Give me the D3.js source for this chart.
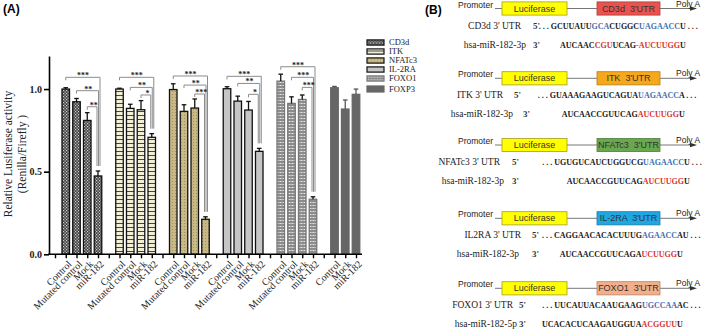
<!DOCTYPE html>
<html>
<head>
<meta charset="utf-8">
<script src="https://cdn.jsdelivr.net/npm/d3@7"></script>
<style>
  body { margin: 0; background: #fff; }
  svg { display: block; }
</style>
</head>
<body>
<div id="viz"></div>
<script>
// ---- data (panel A) ----
const genes = ["CD3d", "ITK", "NFATc3", "IL-2RA", "FOXO1", "FOXP3"]
const conditions = [
  ["Control", "Mutated control", "Mock", "miR-182"],
  ["Control", "Mutated control", "Mock", "miR-182"],
  ["Control", "Mutated control", "Mock", "miR-182"],
  ["Control", "Mutated control", "Mock", "miR-182"],
  ["Control", "Mutated control", "Mock", "miR-182"],
  ["Control", "Mock", "miR-182"]
]
const meanValues = [
  [1.000, 0.923, 0.810, 0.474],
  [1.000, 0.883, 0.875, 0.708],
  [0.997, 0.865, 0.885, 0.212],
  [1.002, 0.927, 0.873, 0.623],
  [1.048, 0.913, 0.937, 0.333],
  [1.008, 0.879, 0.968]
]
const errValues = [
  [0.008, 0.020, 0.047, 0.030],
  [0.005, 0.025, 0.055, 0.022],
  [0.035, 0.040, 0.055, 0.015],
  [0.012, 0.030, 0.052, 0.018],
  [0.042, 0.040, 0.027, 0.015],
  [0.008, 0.055, 0.032]
]
// brackets: control / mutated / mock vs miR-182
const bracketLevels = [
  [1.071, 0.990, 0.893],
  [1.071, 1.010, 0.964],
  [1.079, 1.024, 0.970],
  [1.077, 1.034, 0.968],
  [1.135, 1.071, 1.010]
]
const bracketLabels = [
  ["***", "**", "**"],
  ["***", "**", "*"],
  ["***", "**", "***"],
  ["***", "**", "*"],
  ["***", "***", "***"]
]
const yTicks = [0, 0.5, 1.0]

// ---- data (panel B) ----
const utrBoxNames = ["CD3d  3'UTR", "ITK  3'UTR", "NFATc3  3'UTR", "IL-2RA  3'UTR", "FOXO1  3'UTR"]
const utrBoxColors = ["#e9534f", "#f5a81c", "#6aa84f", "#1ea7e1", "#f3ae8a"]
const utrLabels = ["CD3d 3' UTR", "ITK 3' UTR", "NFATc3 3' UTR", "IL2RA 3' UTR", "FOXO1 3' UTR"]
const mirLabels = ["hsa-miR-182-3p", "hsa-miR-182-3p", "hsa-miR-182-3p", "hsa-miR-182-3p", "hsa-miR-182-5p"]
// [..] marks the seed / matching part
const utrSeqs = [
  ". . . GCUUAUU[GCA]CUGGC[UAGAACC]U . . .",
  ". . . GUAAAGAAGUCAGUA[UAGAACC]A . . .",
  ". . . UGUGUCAUCUGGUCG[UAGAACC]U . . .",
  ". . . CAGGAACACACUUUG[AGAACC]AU . . .",
  ". . . UUCAUUACAAUGAAG[UGCCAA]AC . . ."
]
const mirSeqs = [
  "AUCAAC[CGU]UCAG[-AUCUUGG]U",
  "AUCAACCGUUCAG[AUCUUGG]U",
  "AUCAACCGUUCAG[AUCUUGG]U",
  "AUCAACCGUUCAGA[UCUUGG]U",
  "UCACACUCAAGAUGGUA[ACGGUU]U"
]

// ---- layout ----
const width = 709
const height = 334
const rowY = [8.5, 78.3, 145, 218.3, 288.3]
const utrLabelEnd = [521, 503, 500, 521, 513]
const mirLabelEnd = [526, 513, 504, 519, 517]
const prime5X = [533, 514, 512, 532, 519]
const prime3X = [533, 523, 512, 532, 519]
const seedEndX = [680, 679, 684, 677, 677]

const svg = d3.select("#viz").append("svg")
  .attr("width", width)
  .attr("height", height)

const defs = svg.append("defs")

// fill patterns for the genes
const p1 = defs.append("pattern").attr("id", "pat0").attr("patternUnits", "userSpaceOnUse")
  .attr("width", 3).attr("height", 3)
p1.append("rect").attr("width", 3).attr("height", 3).attr("fill", "#444")
p1.append("rect").attr("x", 0).attr("y", 0).attr("width", 1.2).attr("height", 1.2).attr("fill", "#cfcfcf")
p1.append("rect").attr("x", 1.5).attr("y", 1.5).attr("width", 1.2).attr("height", 1.2).attr("fill", "#cfcfcf")

const p2 = defs.append("pattern").attr("id", "pat1").attr("patternUnits", "userSpaceOnUse")
  .attr("width", 4).attr("height", 4)
p2.append("rect").attr("width", 4).attr("height", 4).attr("fill", "#f4f0d8")
p2.append("rect").attr("y", 3).attr("width", 4).attr("height", 1).attr("fill", "#444")

const p3 = defs.append("pattern").attr("id", "pat2").attr("patternUnits", "userSpaceOnUse")
  .attr("width", 3).attr("height", 3)
p3.append("rect").attr("width", 3).attr("height", 3).attr("fill", "#c9b986")
p3.append("rect").attr("x", 1).attr("y", 1).attr("width", 0.8).attr("height", 0.8).attr("fill", "#8a7a4a")

const p5 = defs.append("pattern").attr("id", "pat4").attr("patternUnits", "userSpaceOnUse")
  .attr("width", 3).attr("height", 3)
p5.append("rect").attr("width", 3).attr("height", 3).attr("fill", "#8c8c8c")
p5.append("rect").attr("x", 0.5).attr("y", 1).attr("width", 2).attr("height", 1).attr("fill", "#e6e6e6")

const fills = ["url(#pat0)", "url(#pat1)", "url(#pat2)", "#c6c6c6", "url(#pat4)", "#666666"]
const strokes = ["#111", "#111", "#111", "#111", "#777", "#666666"]

// ================= panel A =================
// one slot per bar, plus an empty slot before every gene group
const slots = []
genes.forEach((g, gi) => {
  slots.push({ key: "gap" + gi, gap: true })
  conditions[gi].forEach((c, ci) => {
    slots.push({ key: g + "|" + c, gi: gi, ci: ci, cond: c, mean: meanValues[gi][ci], err: errValues[gi][ci] })
  })
})
const bars = slots.filter(s => !s.gap)

const xScale = d3.scalePoint()
  .domain(slots.map(s => s.key))
  .range([55, 356])
const barW = xScale.step() * 0.7

const yScale = d3.scaleLinear()
  .domain([0, 1.2])
  .range([254.3, 56])

const chart = svg.append("g")

chart.append("text")
  .attr("x", 3).attr("y", 13)
  .attr("font-family", "Arial, Liberation Sans, sans-serif")
  .attr("font-weight", "bold")
  .attr("font-size", 12)
  .text("(A)")

// bars
chart.append("g")
  .selectAll("rect")
  .data(bars)
  .join("rect")
  .attr("x", d => xScale(d.key) - barW / 2)
  .attr("y", d => yScale(d.mean))
  .attr("width", barW)
  .attr("height", d => yScale(0) - yScale(d.mean))
  .attr("fill", d => fills[d.gi])
  .attr("stroke", d => strokes[d.gi])
  .attr("stroke-width", 1.3)

// error bars (upper half)
const eb = chart.append("g")
  .selectAll("g")
  .data(bars)
  .join("g")
  .attr("stroke", d => d.gi === 5 ? "#555" : "#111")
  .attr("stroke-width", 1.3)
eb.append("line")
  .attr("x1", d => xScale(d.key)).attr("x2", d => xScale(d.key))
  .attr("y1", d => yScale(d.mean)).attr("y2", d => yScale(d.mean + d.err))
eb.append("line")
  .attr("x1", d => xScale(d.key) - 2.3).attr("x2", d => xScale(d.key) + 2.3)
  .attr("y1", d => yScale(d.mean + d.err)).attr("y2", d => yScale(d.mean + d.err))

// significance brackets
const brackets = []
bracketLevels.forEach((levels, gi) => {
  const last = conditions[gi].length - 1
  levels.forEach((lv, bi) => {
    brackets.push({
      gi: gi, bi: bi, level: lv, label: bracketLabels[gi][bi],
      from: genes[gi] + "|" + conditions[gi][bi],
      to: genes[gi] + "|" + conditions[gi][last],
      toTop: meanValues[gi][last] + errValues[gi][last]
    })
  })
})
const bg = chart.append("g")
  .selectAll("g")
  .data(brackets)
  .join("g")
bg.append("path")
  .attr("fill", "none")
  .attr("stroke", "#8c8c8c")
  .attr("stroke-width", 1)
  .attr("d", d => {
    const x1 = xScale(d.from)
    const x2 = xScale(d.to) + 2 - 1.5 * d.bi
    const yl = yScale(d.level)
    return `M${x1},${yl + 3}V${yl}H${x2}V${yScale(d.toTop) - 5}`
  })
bg.append("text")
  .attr("x", d => (xScale(d.from) + xScale(d.to)) / 2 + 1)
  .attr("y", d => yScale(d.level) + 1)
  .attr("text-anchor", "middle")
  .attr("font-family", "Liberation Serif, Times New Roman, serif")
  .attr("font-weight", "bold")
  .attr("font-size", 8)
  .attr("fill", "#222")
  .text(d => d.label)

// y axis
const yAxis = d3.axisLeft(yScale)
  .tickValues(yTicks)
  .tickFormat(d3.format(".1f"))
  .tickSize(5)
  .tickSizeOuter(0)
const yG = chart.append("g")
  .attr("transform", "translate(49,0)")
  .call(yAxis)
yG.select(".domain").attr("stroke-width", 1.6)
yG.selectAll(".tick line").attr("stroke-width", 1.6)
yG.selectAll(".tick text")
  .attr("font-family", "Liberation Serif, Times New Roman, serif")
  .attr("font-weight", "bold")
  .attr("font-size", 10)
  .attr("fill", "#222")
  .attr("x", -7)

// x axis: line + a tick under every slot
const xAxis = d3.axisBottom(xScale).tickSize(4).tickFormat("")
const xG = chart.append("g")
  .attr("transform", `translate(0,${yScale(0)})`)
  .call(xAxis)
xG.select(".domain").remove()
xG.selectAll(".tick line").attr("stroke-width", 1.4)
xG.append("line")
  .attr("x1", 48.2).attr("x2", 362)
  .attr("stroke", "#000").attr("stroke-width", 1.6)

chart.append("g")
  .selectAll("text")
  .data(bars)
  .join("text")
  .attr("transform", d => `translate(${xScale(d.key) + 4},${yScale(0) + 8}) rotate(-45)`)
  .attr("text-anchor", "end")
  .attr("dy", "0.35em")
  .attr("font-family", "Liberation Serif, Times New Roman, serif")
  .attr("font-size", 10)
  .attr("fill", "#222")
  .text(d => d.cond)

// y label
const yl = chart.append("text")
  .attr("transform", "translate(12,154) rotate(-90)")
  .attr("text-anchor", "middle")
  .attr("font-family", "Liberation Serif, Times New Roman, serif")
  .attr("font-size", 11.5)
  .attr("fill", "#222")
yl.append("tspan").attr("x", 0).attr("dy", 0).text("Relative Lusiferase activity")
yl.append("tspan").attr("x", 0).attr("dy", 14).text("(Renilla/Firefly )")

// legend
const leg = chart.append("g")
  .selectAll("g")
  .data(genes)
  .join("g")
  .attr("transform", (d, i) => `translate(367,${i < 5 ? 42.5 + i * 9 : 89})`)
leg.append("rect")
  .attr("x", 0).attr("y", (d, i) => i < 5 ? -2.6 : -3)
  .attr("width", 17).attr("height", (d, i) => i < 5 ? 5.2 : 6)
  .attr("fill", (d, i) => fills[i])
  .attr("stroke", (d, i) => strokes[i])
  .attr("stroke-width", 1.2)
leg.append("text")
  .attr("x", 22).attr("dy", "0.35em")
  .attr("font-family", "Liberation Serif, Times New Roman, serif")
  .attr("font-size", 8.5)
  .attr("fill", "#222")
  .text(d => d)

// ================= panel B =================
const panelB = svg.append("g")
panelB.append("text")
  .attr("x", 425).attr("y", 14)
  .attr("font-family", "Arial, Liberation Sans, sans-serif")
  .attr("font-weight", "bold")
  .attr("font-size", 12)
  .text("(B)")

function parseSeq (s) {
  return s.split(/(\[[^\]]*\])/).filter(p => p.length).map(p =>
    p[0] === "[" ? { t: p.slice(1, -1), hi: true } : { t: p, hi: false })
}

const seqFont = "Liberation Serif, Times New Roman, serif"

utrSeqs.forEach((seq, i) => {
  const cy = rowY[i]
  const row = panelB.append("g")

  // construct line with arrow
  row.append("line")
    .attr("x1", 495).attr("x2", 692)
    .attr("y1", cy).attr("y2", cy)
    .attr("stroke", "#777").attr("stroke-width", 1)
  row.append("path")
    .attr("d", `M697,${cy}L690,${cy - 2.2}L690,${cy + 2.2}Z`)
    .attr("fill", "#333")
  row.append("text")
    .attr("x", 493).attr("y", cy - 1)
    .attr("text-anchor", "end")
    .attr("font-family", "Arial, Liberation Sans, sans-serif")
    .attr("font-size", 8.5).attr("fill", "#222")
    .text("Promoter")
  row.append("text")
    .attr("x", 676).attr("y", cy - 2)
    .attr("font-family", "Arial, Liberation Sans, sans-serif")
    .attr("font-size", 8.5).attr("fill", "#222")
    .text("Poly A")
  row.append("rect")
    .attr("x", 502).attr("y", cy - 6.6)
    .attr("width", 65).attr("height", 13.2)
    .attr("fill", "#ffff00").attr("stroke", "#a59a2a").attr("stroke-width", 0.8)
  row.append("text")
    .attr("x", 534.5).attr("y", cy).attr("dy", "0.35em")
    .attr("text-anchor", "middle")
    .attr("font-family", "Arial, Liberation Sans, sans-serif")
    .attr("font-size", 9).attr("fill", "#333")
    .text("Luciferase")
  row.append("rect")
    .attr("x", 597).attr("y", cy - 6.6)
    .attr("width", 63).attr("height", 13.2)
    .attr("fill", utrBoxColors[i]).attr("stroke", d3.color(utrBoxColors[i]).darker(0.8)).attr("stroke-width", 0.8)
  row.append("text")
    .attr("x", 628.5).attr("y", cy).attr("dy", "0.35em")
    .attr("text-anchor", "middle")
    .attr("font-family", "Arial, Liberation Sans, sans-serif")
    .attr("font-size", 9).attr("fill", "#333")
    .style("white-space", "pre")
    .text(utrBoxNames[i])

  // labels
  row.append("text")
    .attr("x", utrLabelEnd[i]).attr("y", cy + 20)
    .attr("text-anchor", "end")
    .attr("font-family", seqFont).attr("font-size", 9.5).attr("fill", "#222")
    .text(utrLabels[i])
  row.append("text")
    .attr("x", mirLabelEnd[i]).attr("y", cy + 39)
    .attr("text-anchor", "end")
    .attr("font-family", seqFont).attr("font-size", 9.5).attr("fill", "#222")
    .text(mirLabels[i])
  row.append("text")
    .attr("x", prime5X[i]).attr("y", cy + 20)
    .attr("font-family", seqFont).attr("font-size", 9).attr("font-weight", "bold").attr("fill", "#333")
    .text("5'")
  row.append("text")
    .attr("x", prime3X[i]).attr("y", cy + 39)
    .attr("font-family", seqFont).attr("font-size", 9).attr("font-weight", "bold").attr("fill", "#333")
    .text("3'")

  // UTR sequence, placed so the last matching part ends at seedEndX
  const utrParts = parseSeq(seq)
  const utrText = row.append("text")
    .attr("y", cy + 20)
    .attr("font-family", seqFont).attr("font-size", 8).attr("font-weight", "bold")
    .style("white-space", "pre")
  utrText.selectAll("tspan").data(utrParts).join("tspan")
    .attr("fill", d => d.hi ? "#3f6fb0" : "#1a1a1a")
    .text(d => d.t)
  let lastHiEnd = 0
  let pos = 0
  const hiIdx = []
  utrParts.forEach(p => {
    if (p.hi) { for (let k = 0; k < p.t.length; k++) hiIdx.push(pos + k); lastHiEnd = pos + p.t.length }
    pos += p.t.length
  })
  const node = utrText.node()
  const endOffset = node.getEndPositionOfChar(lastHiEnd - 1).x
  const utrX = seedEndX[i] - endOffset
  utrText.attr("x", utrX)

  // pairing bars
  const charMid = k => utrX + (node.getStartPositionOfChar(k).x + node.getEndPositionOfChar(k).x) / 2
  row.append("g").selectAll("line")
    .data(hiIdx)
    .join("line")
    .attr("x1", k => charMid(k))
    .attr("x2", k => charMid(k))
    .attr("y1", cy + 23).attr("y2", cy + 30)
    .attr("stroke", "#3f6fb0").attr("stroke-width", 0.8)

  // miRNA sequence aligned on its last seed part
  const mirParts = parseSeq(mirSeqs[i])
  const mirText = row.append("text")
    .attr("y", cy + 39)
    .attr("font-family", seqFont).attr("font-size", 8).attr("font-weight", "bold")
  mirText.selectAll("tspan").data(mirParts).join("tspan")
    .attr("fill", d => d.hi ? "#d9342b" : "#1a1a1a")
    .text(d => d.t)
  let mpos = 0, mEnd = 0
  mirParts.forEach(p => { if (p.hi) mEnd = mpos + p.t.length; mpos += p.t.length })
  const mEndX = mirText.node().getEndPositionOfChar(mEnd - 1).x
  mirText.attr("x", seedEndX[i] - mEndX)
})
</script>
</body>
</html>
